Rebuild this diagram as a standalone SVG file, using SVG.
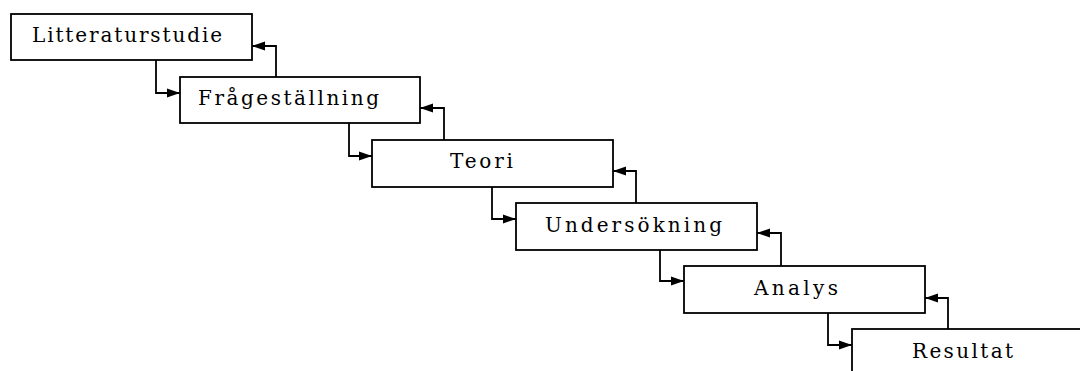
<svg xmlns="http://www.w3.org/2000/svg" width="1080" height="371" viewBox="0 0 1080 371">
<style>
.box{fill:#fff;stroke:#000;stroke-width:1.8}
.lbl{font-family:"DejaVu Serif","Liberation Serif",serif;font-size:20px;fill:#000}
.con{fill:none;stroke:#000;stroke-width:1.8}
</style>
<defs>
<marker id="ah" markerUnits="userSpaceOnUse" markerWidth="14" markerHeight="12" refX="13" refY="6" orient="auto">
<path d="M0,1.5 L13,6 L0,10.5 z" fill="#000"/>
</marker>
</defs>
<rect width="1080" height="371" fill="#fff"/>
<g id="n1"><rect class="box" x="11" y="14" width="241" height="46"/><text class="lbl" x="32" y="42" textLength="190" lengthAdjust="spacing">Litteraturstudie</text></g>
<g id="n2"><rect class="box" x="180" y="77" width="240" height="46"/><text class="lbl" x="198" y="105" textLength="181" lengthAdjust="spacing">Frågeställning</text></g>
<g id="n3"><rect class="box" x="372" y="140" width="241" height="47"/><text class="lbl" x="450" y="168" textLength="63" lengthAdjust="spacing">Teori</text></g>
<g id="n4"><rect class="box" x="516" y="203" width="241" height="47"/><text class="lbl" x="545" y="232" textLength="177" lengthAdjust="spacing">Undersökning</text></g>
<g id="n5"><rect class="box" x="684" y="266" width="241" height="47"/><text class="lbl" x="754" y="295" textLength="84" lengthAdjust="spacing">Analys</text></g>
<g id="n6"><rect class="box" x="852" y="329" width="260" height="60"/><text class="lbl" x="912" y="358" textLength="101" lengthAdjust="spacing">Resultat</text></g>
<g id="connectors">
<path class="con" marker-end="url(#ah)" d="M156,60 V93 H180"/>
<path class="con" marker-end="url(#ah)" d="M276,77 V46 H252"/>
<path class="con" marker-end="url(#ah)" d="M349,123 V156 H372"/>
<path class="con" marker-end="url(#ah)" d="M444,140 V108 H420"/>
<path class="con" marker-end="url(#ah)" d="M492,187 V219 H516"/>
<path class="con" marker-end="url(#ah)" d="M636,203 V171 H613"/>
<path class="con" marker-end="url(#ah)" d="M660,250 V281 H684"/>
<path class="con" marker-end="url(#ah)" d="M781,266 V233 H757"/>
<path class="con" marker-end="url(#ah)" d="M828,313 V345 H852"/>
<path class="con" marker-end="url(#ah)" d="M948,329 V298 H925"/>
</g>
</svg>
